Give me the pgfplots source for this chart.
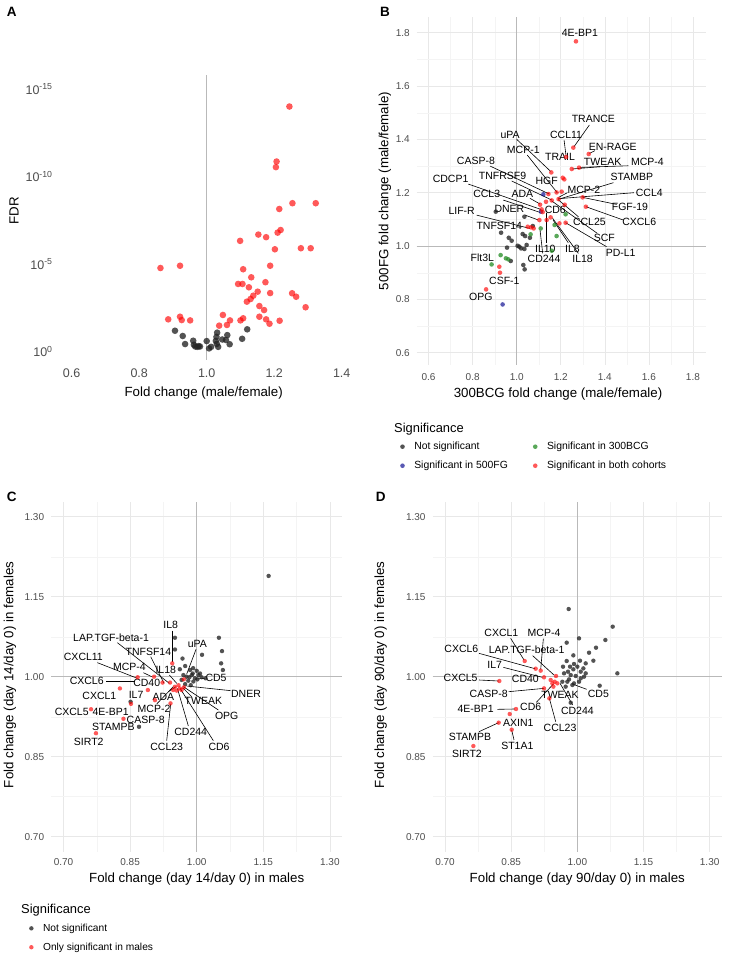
\documentclass[border=0pt]{standalone}
\usepackage{pgfplots}
\pgfplotsset{compat=1.18}
\usepackage{fontspec}
\setmainfont{Liberation Sans}
\definecolor{ticktext}{RGB}{77,77,77}
\definecolor{gridmaj}{RGB}{232,232,232}
\definecolor{gridmin}{RGB}{244,244,244}
\definecolor{refline}{RGB}{185,185,185}
\definecolor{ptred}{RGB}{255,0,0}
\definecolor{ptblack}{RGB}{35,35,35}
\definecolor{ptgreen}{RGB}{34,139,34}
\definecolor{ptblue}{RGB}{0,0,139}
\pgfplotsset{
  base/.style={scale only axis, axis line style={draw=none}, major tick length=0pt, minor tick length=0pt,
    tick label style={text=ticktext, font=\fontsize{10}{12}\selectfont},
    /pgf/number format/assume math mode=true, clip=false},
  gridded/.style={grid=both, major grid style={gridmaj, line width=0.6pt}, minor grid style={gridmin, line width=0.35pt}},
  redpt/.style={only marks, mark=*, mark size=#1, color=ptred, mark options={draw opacity=0, fill=ptred, fill opacity=0.65}},
  blackpt/.style={only marks, mark=*, mark size=#1, color=ptblack, mark options={draw opacity=0, fill=ptblack, fill opacity=0.78}},
  greenpt/.style={only marks, mark=*, mark size=#1, color=ptgreen, mark options={draw opacity=0, fill=ptgreen, fill opacity=0.75}},
  bluept/.style={only marks, mark=*, mark size=#1, color=ptblue, mark options={draw opacity=0, fill=ptblue, fill opacity=0.65}},
  legend image code/.code={\draw[mark repeat=2,mark phase=2,#1] plot coordinates {(0pt,0pt) (4pt,0pt) (8pt,0pt)};},
}
\tikzset{
  lab/.style={font=\fontsize{10.5}{12}\selectfont, inner sep=0pt},
  lbl/.style={draw=black, line width=0.6pt},
  ttl/.style={font=\fontsize{13.3}{15}\selectfont, inner sep=0pt},
  ref/.style={draw=refline, line width=0.9pt},
  pan/.style={font=\fontsize{13.5}{15}\selectfont\bfseries, inner sep=0pt},
}
\begin{document}
\begin{tikzpicture}
\path[use as bounding box] (0pt,0pt) rectangle (728pt,957pt);

% ---------------- Panel A ----------------
\begin{axis}[base, at={(54.8pt,597pt)}, anchor=south west, width=303.8pt, height=285pt,
  xmin=0.55, xmax=1.45, ymin=-0.47, ymax=15.8,
  xtick={0.6,0.8,1.0,1.2,1.4}, xticklabels={0.6,0.8,1.0,1.2,1.4},
  ytick={0,5,10,15}, yticklabels={10\textsuperscript{0},10\textsuperscript{-5},10\textsuperscript{-10},10\textsuperscript{-15}},
  tick label style={font=\fontsize{12.5}{14}\selectfont},
  xticklabel style={inner sep=0pt, yshift=-8.5pt}, yticklabel style={inner sep=0pt, xshift=-2pt}]
\draw[ref] (axis cs:1,-0.47) -- (axis cs:1,15.8);
\addplot[blackpt=3.3pt] coordinates {
(0.906,1.2) (0.929,0.9) (0.936,0.44) (0.960,0.63) (0.962,0.4) (0.966,0.3) (0.972,0.28) (0.976,0.32)
(1.0,0.61) (1.007,0.19) (1.013,0.28) (1.031,1.09) (1.029,0.85) (1.027,0.62) (1.034,0.28) (1.046,0.7)
(1.061,0.95) (1.057,0.67) (1.068,0.43) (1.105,0.74) (1.120,1.28) (1.03,0.45) (0.98,0.3)
};
\addplot[redpt=3.3pt] coordinates {
(1.245,14.0) (1.207,10.86) (1.205,10.54) (1.254,8.48) (1.323,8.48) (1.215,8.15) (1.219,6.95) (1.210,6.8)
(1.153,6.69) (1.176,6.54) (1.099,6.33) (1.202,5.85) (1.279,5.91) (1.308,5.91) (0.863,4.78) (0.921,4.91)
(1.108,4.71) (1.188,4.91) (1.132,4.25) (1.093,3.87) (1.106,3.87) (1.174,3.97) (1.125,3.68) (1.151,3.43)
(1.188,3.35) (1.138,3.2) (1.253,3.34) (1.265,3.14) (1.130,3.01) (1.119,2.86) (1.293,2.54) (1.156,2.61)
(1.170,2.38) (0.886,1.85) (0.921,2.0) (0.926,1.81) (0.951,1.79) (1.048,2.1) (1.069,1.79) (1.100,1.79)
(1.108,1.91) (1.156,2.0) (1.176,1.85) (1.186,1.6) (1.216,1.77) (1.037,1.49) (1.060,1.53)
};
\end{axis}

% ---------------- Panel B ----------------
\begin{axis}[base, gridded, at={(416.7pt,592pt)}, anchor=south west, width=289pt, height=348.3pt,
  xmin=0.546, xmax=1.858, ymin=0.554, ymax=1.86,
  xtick={0.6,0.8,1.0,1.2,1.4,1.6,1.8}, xticklabels={0.6,0.8,1.0,1.2,1.4,1.6,1.8},
  ytick={0.6,0.8,1.0,1.2,1.4,1.6,1.8}, yticklabels={0.6,0.8,1.0,1.2,1.4,1.6,1.8},
  minor xtick={0.7,0.9,1.1,1.3,1.5,1.7}, minor ytick={0.7,0.9,1.1,1.3,1.5,1.7},
  xticklabel style={inner sep=0pt, yshift=-8pt}, yticklabel style={inner sep=0pt, xshift=-6.7pt},
  legend columns=2, legend cell align=left,
  legend style={at={(-0.0578,-0.2153)}, anchor=north west, draw=none, fill=none, inner sep=0pt,
    font=\fontsize{10.4}{12}\selectfont, row sep=6pt,
    /tikz/every odd column/.append style={column sep=7.5pt},
    /tikz/every even column/.append style={column sep=23pt}}]
\draw[ref] (axis cs:1,0.554) -- (axis cs:1,1.86);
\draw[ref] (axis cs:0.546,1) -- (axis cs:1.858,1);
\addplot[blackpt=2.3pt] coordinates {
(0.905,1.129) (1.035,1.11) (0.929,1.05) (0.964,1.031) (0.977,1.02) (0.956,0.994) (1.004,1.001) (1.020,0.991)
(1.035,0.989) (1.027,1.045) (1.038,1.0375) (1.060,1.031) (1.073,1.075) (1.030,0.929) (1.036,0.9125)
(0.973,0.944) (1.012,0.9975) (1.045,1.004)
};
\addlegendentry{Not significant}
\addplot[greenpt=2.3pt] coordinates {
(1.109,1.066) (1.063,1.044) (1.172,1.079) (1.181,1.0375) (1.159,0.9825) (1.222,1.119) (0.927,0.966)
(0.886,0.931) (0.951,0.954) (0.962,0.95)
};
\addlegendentry{Significant in 300BCG}
\addplot[bluept=2.3pt] coordinates {
(0.936,0.781) (1.121,1.194) (1.110,1.129)
};
\addlegendentry{Significant in 500FG}
\addplot[redpt=2.3pt] coordinates {
(1.269,1.7675) (1.257,1.369) (1.224,1.334) (1.327,1.345) (1.250,1.289) (1.283,1.294) (1.157,1.276)
(1.209,1.256) (1.216,1.25) (1.144,1.195) (1.181,1.201) (1.204,1.204) (1.190,1.176) (1.159,1.171)
(1.133,1.166) (1.218,1.155) (1.299,1.1825) (1.314,1.1475) (1.106,1.155) (1.113,1.1375) (1.118,1.1275)
(1.103,1.0975) (1.136,1.0975) (1.154,1.1075) (1.194,1.085) (1.222,1.0875) (1.050,1.0725) (1.065,1.07)
(1.077,1.066) (0.861,0.8375) (0.921,0.9225) (0.924,0.9)
};
\addlegendentry{Significant in both cohorts}
\draw[lbl] (axis cs:1.330,1.454) -- (axis cs:1.260,1.3725);
\draw[lbl] (axis cs:1.215,1.3975) -- (axis cs:1.224,1.3375);
\draw[lbl] (axis cs:1.355,1.3575) -- (axis cs:1.330,1.3475);
\draw[lbl] (axis cs:1.378,1.2975) -- (axis cs:1.253,1.289);
\draw[lbl] (axis cs:1.507,1.301) -- (axis cs:1.287,1.295);
\draw[lbl] (axis cs:1.0,1.4) -- (axis cs:1.154,1.28);
\draw[lbl] (axis cs:1.048,1.341) -- (axis cs:1.184,1.2);
\draw[lbl] (axis cs:0.879,1.3) -- (axis cs:1.148,1.195);
\draw[lbl] (axis cs:0.977,1.244) -- (axis cs:1.159,1.1725);
\draw[lbl] (axis cs:0.780,1.2325) -- (axis cs:1.109,1.1375);
\draw[lbl] (axis cs:1.230,1.2) -- (axis cs:1.190,1.1825);
\draw[lbl] (axis cs:1.532,1.2) -- (axis cs:1.188,1.1775);
\draw[lbl] (axis cs:1.439,1.2375) -- (axis cs:1.188,1.175);
\draw[lbl] (axis cs:1.060,1.179) -- (axis cs:1.106,1.1575);
\draw[lbl] (axis cs:0.939,1.1725) -- (axis cs:1.106,1.126);
\draw[lbl] (axis cs:1.454,1.156) -- (axis cs:1.299,1.1825);
\draw[lbl] (axis cs:1.484,1.0975) -- (axis cs:1.314,1.1475);
\draw[lbl] (axis cs:1.280,1.11) -- (axis cs:1.19,1.1725);
\draw[lbl] (axis cs:1.366,1.0475) -- (axis cs:1.159,1.169);
\draw[lbl] (axis cs:1.408,0.9975) -- (axis cs:1.222,1.0875);
\draw[lbl] (axis cs:0.818,1.116) -- (axis cs:1.060,1.066);
\draw[lbl] (axis cs:1.038,1.116) -- (axis cs:1.097,1.098);
\draw[lbl] (axis cs:1.133,1.0125) -- (axis cs:1.133,1.1225);
\draw[lbl] (axis cs:1.234,1.0125) -- (axis cs:1.165,1.0975);
\draw[lbl] (axis cs:1.280,0.9725) -- (axis cs:1.163,1.104);
\draw[lbl] (axis cs:1.118,0.9725) -- (axis cs:1.106,1.06);
\node[lab] at (axis cs:1.287,1.7975) {4E-BP1};
\node[lab] at (axis cs:1.348,1.475) {TRANCE};
\node[lab] at (axis cs:1.224,1.416) {CCL11};
\node[lab] at (axis cs:1.436,1.3725) {EN-RAGE};
\node[lab] at (axis cs:1.390,1.314) {TWEAK};
\node[lab] at (axis cs:1.593,1.314) {MCP-4};
\node[lab] at (axis cs:1.197,1.335) {TRAIL};
\node[lab] at (axis cs:0.970,1.4175) {uPA};
\node[lab] at (axis cs:1.030,1.36) {MCP-1};
\node[lab] at (axis cs:1.136,1.244) {HGF};
\node[lab] at (axis cs:0.815,1.319) {CASP-8};
\node[lab] at (axis cs:0.936,1.264) {TNFRSF9};
\node[lab] at (axis cs:0.700,1.25) {CDCP1};
\node[lab] at (axis cs:1.305,1.21) {MCP-2};
\node[lab] at (axis cs:1.602,1.2) {CCL4};
\node[lab] at (axis cs:1.523,1.259) {STAMBP};
\node[lab] at (axis cs:1.026,1.195) {ADA};
\node[lab] at (axis cs:0.864,1.194) {CCL3};
\node[lab] at (axis cs:1.514,1.145) {FGF-19};
\node[lab] at (axis cs:1.556,1.089) {CXCL6};
\node[lab] at (axis cs:1.175,1.135) {CD6};
\node[lab] at (axis cs:1.330,1.089) {CCL25};
\node[lab] at (axis cs:1.398,1.031) {SCF};
\node[lab] at (axis cs:1.472,0.976) {PD-L1};
\node[lab] at (axis cs:0.750,1.131) {LIF-R};
\node[lab] at (axis cs:0.967,1.1375) {DNER};
\node[lab] at (axis cs:0.921,1.076) {TNFSF14};
\node[lab] at (axis cs:1.130,0.991) {IL10};
\node[lab] at (axis cs:1.253,0.991) {IL8};
\node[lab] at (axis cs:1.299,0.951) {IL18};
\node[lab] at (axis cs:1.124,0.95) {CD244};
\node[lab] at (axis cs:0.844,0.9575) {Flt3L};
\node[lab] at (axis cs:0.944,0.87) {CSF-1};
\node[lab] at (axis cs:0.837,0.81) {OPG};
\end{axis}

% ---------------- Panel C ----------------
\begin{axis}[base, gridded, at={(51.1pt,105.4pt)}, anchor=south west, width=291.2pt, height=349.8pt,
  xmin=0.672, xmax=1.328, ymin=0.672, ymax=1.328,
  xtick={0.7,0.85,1.0,1.15,1.3}, xticklabels={0.70,0.85,1.00,1.15,1.30},
  ytick={0.7,0.85,1.0,1.15,1.3}, yticklabels={0.70,0.85,1.00,1.15,1.30},
  minor xtick={0.775,0.925,1.075,1.225}, minor ytick={0.775,0.925,1.075,1.225},
  xticklabel style={inner sep=0pt, yshift=-7pt}, yticklabel style={inner sep=0pt, xshift=-6.8pt},
  legend columns=1, legend cell align=left,
  legend style={at={(-0.076,-0.2004)}, anchor=north west, draw=none, fill=none, inner sep=0pt,
    font=\fontsize{10.2}{12}\selectfont, row sep=6pt,
    /tikz/every odd column/.append style={column sep=7.5pt}}]
\draw[ref] (axis cs:1,0.672) -- (axis cs:1,1.328);
\draw[ref] (axis cs:0.672,1) -- (axis cs:1.328,1);
\addplot[blackpt=2.2pt] coordinates {
(1.162,1.189) (0.951,1.073) (0.951,1.051) (0.968,1.034) (1.050,1.073) (1.057,1.048) (1.055,1.025)
(1.059,1.0125) (1.012,1.041) (0.962,1.014) (0.974,1.02) (0.985,1.0125) (0.992,1.016) (1.0,1.011)
(1.0075,1.006) (0.989,1.003) (0.977,1.0) (0.970,1.003) (0.981,0.9925) (0.9925,0.991) (1.0015,0.995)
(0.974,0.986) (0.9865,0.984) (0.996,0.997) (1.004,1.003) (1.011,0.999) (0.966,0.994) (0.991,1.006)
(0.9835,0.999) (1.020,0.997) (0.851,0.953) (0.870,0.906)
};
\addlegendentry{Not significant}
\addplot[redpt=2.2pt] coordinates {
(0.945,1.025) (0.867,0.999) (0.904,1.0) (0.827,0.978) (0.890,0.975) (0.923,0.989) (0.940,0.989)
(0.951,0.981) (0.959,0.984) (0.962,0.978) (0.947,0.975) (0.955,0.974) (0.966,0.975) (0.971,0.98)
(0.971,0.995) (0.906,0.956) (0.852,0.949) (0.941,0.95) (0.762,0.939) (0.835,0.921) (0.773,0.894)
};
\addlegendentry{Only significant in males}
\draw[lbl] (axis cs:0.9444,1.0863) -- (axis cs:0.9444,1.0281);
\draw[lbl] (axis cs:0.8213,1.0638) -- (axis cs:0.9384,0.9875);
\draw[lbl] (axis cs:0.8964,1.0375) -- (axis cs:0.9264,0.9875);
\draw[lbl] (axis cs:0.9985,1.0513) -- (axis cs:0.9775,1.005);
\draw[lbl] (axis cs:0.7763,1.0263) -- (axis cs:0.8664,0.9969);
\draw[lbl] (axis cs:0.8799,1.0075) -- (axis cs:0.8986,1.0);
\draw[lbl] (axis cs:0.9384,1.0031) -- (axis cs:0.955,0.9875);
\draw[lbl] (axis cs:1.0188,0.9969) -- (axis cs:0.9962,0.9956);
\draw[lbl] (axis cs:0.7958,0.9906) -- (axis cs:0.8611,0.9906);
\draw[lbl] (axis cs:1.0766,0.9738) -- (axis cs:0.9775,0.9825);
\draw[lbl] (axis cs:0.9362,0.9719) -- (axis cs:0.9535,0.9813);
\draw[lbl] (axis cs:0.9887,0.9625) -- (axis cs:0.9685,0.9794);
\draw[lbl] (axis cs:0.9099,0.9488) -- (axis cs:0.9474,0.9813);
\draw[lbl] (axis cs:1.0488,0.9375) -- (axis cs:0.97,0.9813);
\draw[lbl] (axis cs:0.9812,0.9075) -- (axis cs:0.9565,0.9781);
\draw[lbl] (axis cs:0.9324,0.88) -- (axis cs:0.9414,0.9488);
\draw[lbl] (axis cs:1.0375,0.88) -- (axis cs:0.9625,0.9781);
\node[lab] at (axis cs:0.9414,1.0969) {IL8};
\node[lab] at (axis cs:0.807,1.0738) {LAP.TGF-beta-1};
\node[lab] at (axis cs:0.8911,1.0469) {TNFSF14};
\node[lab] at (axis cs:1.0015,1.0613) {uPA};
\node[lab] at (axis cs:0.7447,1.0363) {CXCL11};
\node[lab] at (axis cs:0.8483,1.0175) {MCP-4};
\node[lab] at (axis cs:0.9302,1.0125) {IL18};
\node[lab] at (axis cs:1.0435,0.9969) {CD5};
\node[lab] at (axis cs:0.7523,0.9919) {CXCL6};
\node[lab] at (axis cs:0.8874,0.9888) {CD40};
\node[lab] at (axis cs:1.1111,0.9675) {DNER};
\node[lab] at (axis cs:0.7808,0.9638) {CXCL1};
\node[lab] at (axis cs:0.8634,0.9656) {IL7};
\node[lab] at (axis cs:0.9249,0.9625) {ADA};
\node[lab] at (axis cs:1.015,0.9544) {TWEAK};
\node[lab] at (axis cs:0.9039,0.9388) {MCP-2};
\node[lab] at (axis cs:1.0676,0.9263) {OPG};
\node[lab] at (axis cs:0.7185,0.9338) {CXCL5};
\node[lab] at (axis cs:0.8063,0.9338) {4E-BP1};
\node[lab] at (axis cs:0.8851,0.9188) {CASP-8};
\node[lab] at (axis cs:0.8123,0.9063) {STAMPB};
\node[lab] at (axis cs:0.9865,0.8969) {CD244};
\node[lab] at (axis cs:0.7568,0.8769) {SIRT2};
\node[lab] at (axis cs:0.9324,0.8688) {CCL23};
\node[lab] at (axis cs:1.0503,0.8688) {CD6};
\end{axis}

% ---------------- Panel D ----------------
\begin{axis}[base, gridded, at={(432.7pt,105.4pt)}, anchor=south west, width=289.3pt, height=349.8pt,
  xmin=0.672, xmax=1.328, ymin=0.672, ymax=1.328,
  xtick={0.7,0.85,1.0,1.15,1.3}, xticklabels={0.70,0.85,1.00,1.15,1.30},
  ytick={0.7,0.85,1.0,1.15,1.3}, yticklabels={0.70,0.85,1.00,1.15,1.30},
  minor xtick={0.775,0.925,1.075,1.225}, minor ytick={0.775,0.925,1.075,1.225},
  xticklabel style={inner sep=0pt, yshift=-7pt}, yticklabel style={inner sep=0pt, xshift=-7pt}]
\draw[ref] (axis cs:1,0.672) -- (axis cs:1,1.328);
\draw[ref] (axis cs:0.672,1) -- (axis cs:1.328,1);
\addplot[blackpt=2.2pt] coordinates {
(0.9803,1.1269) (1.0801,1.0938) (1.0635,1.0688) (1.0038,1.0719) (0.9758,1.0638) (1.0423,1.0544)
(1.0265,1.045) (1.0363,1.03) (1.0907,1.0063) (1.0506,0.9831) (0.9909,1.04) (0.9758,1.0294)
(1.006,1.03) (1.0189,1.025) (0.9675,1.0188) (0.9834,1.0188) (0.9924,1.0238) (1.0,1.0188)
(1.0136,1.0156) (0.9788,1.0094) (0.9909,1.0138) (1.0076,1.0094) (1.0189,1.0063) (0.9698,1.0063)
(0.9849,1.0031) (0.9962,1.0013) (1.0151,1.0) (0.966,0.9906) (0.9773,0.9906) (0.9887,0.9844)
(0.9735,0.9813) (0.9924,0.9875) (1.0076,0.9969) (0.9811,0.995) (1.0038,0.9906) (0.9849,0.9513)
};
\addplot[redpt=2.2pt] coordinates {
(0.8806,1.0294) (0.9055,1.015) (0.9169,1.0113) (0.9244,0.9988) (0.9516,1.0013) (0.8231,0.9919)
(0.9244,0.9781) (0.9433,0.9875) (0.9486,0.9906) (0.9546,0.9875) (0.9456,0.9813) (0.9395,0.9938)
(0.9365,0.9594) (0.8609,0.9394) (0.8466,0.93) (0.8216,0.9138) (0.8511,0.9006) (0.7642,0.87)
};
\draw[lbl] (axis cs:0.8488,1.0719) -- (axis cs:0.8791,1.0313);
\draw[lbl] (axis cs:0.9229,1.0713) -- (axis cs:0.9169,1.0138);
\draw[lbl] (axis cs:0.777,1.0438) -- (axis cs:0.904,1.015);
\draw[lbl] (axis cs:0.8987,1.0394) -- (axis cs:0.9471,1.0031);
\draw[lbl] (axis cs:0.8322,1.0175) -- (axis cs:0.9206,0.9988);
\draw[lbl] (axis cs:0.777,0.9938) -- (axis cs:0.8216,0.9919);
\draw[lbl] (axis cs:0.8443,0.9719) -- (axis cs:0.9244,0.9781);
\draw[lbl] (axis cs:1.0212,0.9763) -- (axis cs:0.9909,0.9856);
\draw[lbl] (axis cs:0.907,0.9519) -- (axis cs:0.9456,0.9863);
\draw[lbl] (axis cs:0.9894,0.9469) -- (axis cs:0.9607,0.9875);
\draw[lbl] (axis cs:0.8186,0.9388) -- (axis cs:0.8579,0.9394);
\draw[lbl] (axis cs:0.9509,0.9156) -- (axis cs:0.9365,0.9594);
\draw[lbl] (axis cs:0.777,0.8969) -- (axis cs:0.8216,0.9138);
\draw[lbl] (axis cs:0.8564,0.8813) -- (axis cs:0.8511,0.9);
\node[lab] at (axis cs:0.8277,1.0825) {CXCL1};
\node[lab] at (axis cs:0.9244,1.0813) {MCP-4};
\node[lab] at (axis cs:0.737,1.0525) {CXCL6};
\node[lab] at (axis cs:0.8851,1.05) {LAP.TGF-beta-1};
\node[lab] at (axis cs:0.8125,1.0219) {IL7};
\node[lab] at (axis cs:0.7354,0.9969) {CXCL5};
\node[lab] at (axis cs:0.8821,0.9956) {CD40};
\node[lab] at (axis cs:0.7989,0.9669) {CASP-8};
\node[lab] at (axis cs:0.9607,0.965) {TWEAK};
\node[lab] at (axis cs:1.0476,0.9669) {CD5};
\node[lab] at (axis cs:0.8942,0.9438) {CD6};
\node[lab] at (axis cs:1.0,0.9363) {CD244};
\node[lab] at (axis cs:0.7695,0.9394) {4E-BP1};
\node[lab] at (axis cs:0.8662,0.9138) {AXIN1};
\node[lab] at (axis cs:0.9607,0.9038) {CCL23};
\node[lab] at (axis cs:0.7566,0.8875) {STAMPB};
\node[lab] at (axis cs:0.8639,0.87) {ST1A1};
\node[lab] at (axis cs:0.7498,0.855) {SIRT2};
\end{axis}

% ---------------- titles and panel letters ----------------
\node[ttl] at (203.7pt,564pt) {Fold change (male/female)};
\node[ttl, rotate=90] at (14pt,746pt) {FDR};
\node[ttl] at (558pt,563pt) {300BCG fold change (male/female)};
\node[ttl, rotate=90] at (385pt,766pt) {500FG fold change (male/female)};
\node[ttl] at (196.7pt,77.7pt) {Fold change (day 14/day 0) in males};
\node[ttl, rotate=90] at (10pt,282pt) {Fold change (day 14/day 0) in females};
\node[ttl] at (577.3pt,77.7pt) {Fold change (day 90/day 0) in males};
\node[ttl, rotate=90] at (380.7pt,282pt) {Fold change (day 90/day 0) in females};
\node[font=\fontsize{12.9}{14}\selectfont, inner sep=0pt, anchor=west] at (394pt,528pt) {Significance};
\node[font=\fontsize{12.9}{14}\selectfont, inner sep=0pt, anchor=west] at (21pt,47pt) {Significance};
\node[pan] at (11.7pt,944.7pt) {A};
\node[pan] at (385pt,945.3pt) {B};
\node[pan] at (11.7pt,460.3pt) {C};
\node[pan] at (380.7pt,460.3pt) {D};
\end{tikzpicture}
\end{document}
